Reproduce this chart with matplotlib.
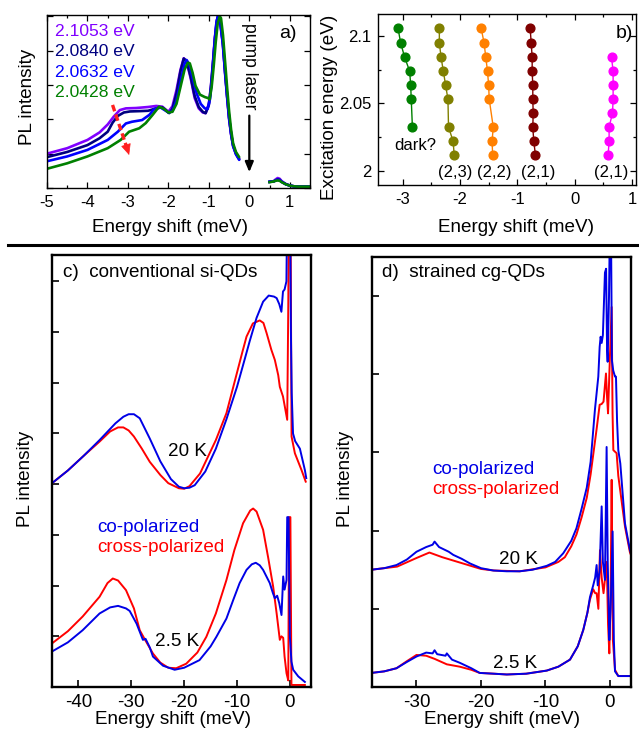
import numpy as np
import matplotlib
matplotlib.use("Agg")
import matplotlib.pyplot as plt
from matplotlib.lines import Line2D
from matplotlib.ticker import MultipleLocator, NullFormatter, FixedLocator, FixedFormatter

plt.rcParams['font.family'] = ['Liberation Sans', 'DejaVu Sans']
plt.rcParams['axes.unicode_minus'] = False

W, H = 639, 729
FS = 13.6

# ---------------- Panel a data ----------------
a_labels = ["2.1053 eV", "2.0840 eV", "2.0632 eV", "2.0428 eV"]
a_colors = ["#8000ff", "#000080", "#0000ff", "#008000"]

a_x_purple = [-5.0, -4.5, -4.0, -3.7, -3.5, -3.35, -3.2, -3.05, -2.8, -2.5, -2.3, -2.15, -2.0, -1.9, -1.8, -1.7, -1.62, -1.55, -1.45, -1.35, -1.25, -1.15, -1.08, -1.0, -0.95, -0.9, -0.85, -0.8, -0.77, -0.72, -0.65, -0.6, -0.55, -0.5, -0.45, -0.4, -0.33, -0.25]
a_y_purple = [1.00, 1.16, 1.40, 1.62, 1.85, 2.08, 2.27, 2.32, 2.33, 2.36, 2.39, 2.37, 2.22, 2.38, 2.85, 3.45, 3.78, 3.68, 3.20, 2.62, 2.32, 2.20, 2.18, 2.45, 2.95, 3.65, 4.40, 4.90, 5.00, 4.85, 4.15, 3.35, 2.65, 2.00, 1.55, 1.22, 1.00, 0.85]
a_x_navy = [-5.0, -4.5, -4.0, -3.7, -3.5, -3.38, -3.25, -3.1, -2.95, -2.7, -2.5, -2.3, -2.15, -1.98, -1.9, -1.8, -1.7, -1.62, -1.55, -1.45, -1.35, -1.25, -1.15, -1.08, -1.0, -0.95, -0.9, -0.85, -0.8, -0.77, -0.72, -0.65, -0.6, -0.55, -0.5, -0.45, -0.4, -0.33, -0.25]
a_y_navy = [0.90, 1.05, 1.25, 1.45, 1.64, 1.90, 2.10, 2.20, 2.23, 2.24, 2.25, 2.32, 2.35, 2.18, 2.30, 2.75, 3.40, 3.77, 3.70, 3.25, 2.68, 2.36, 2.22, 2.18, 2.42, 2.92, 3.60, 4.35, 4.88, 5.00, 4.88, 4.20, 3.40, 2.70, 2.05, 1.58, 1.24, 1.00, 0.84]
a_x_blue = [-5.0, -4.5, -4.0, -3.5, -3.25, -3.05, -2.9, -2.65, -2.47, -2.35, -2.2, -2.0, -1.9, -1.8, -1.7, -1.6, -1.55, -1.48, -1.4, -1.3, -1.2, -1.1, -1.03, -0.97, -0.92, -0.87, -0.82, -0.78, -0.73, -0.66, -0.6, -0.55, -0.5, -0.45, -0.4, -0.33, -0.25]
a_y_blue = [0.78, 0.92, 1.11, 1.40, 1.64, 1.88, 1.93, 1.98, 2.13, 2.30, 2.35, 2.20, 2.24, 2.55, 3.10, 3.62, 3.73, 3.60, 3.20, 2.75, 2.45, 2.32, 2.30, 2.60, 3.25, 4.05, 4.75, 5.00, 4.90, 4.25, 3.40, 2.70, 2.05, 1.58, 1.22, 0.98, 0.82]
a_x_green = [-5.0, -4.5, -4.0, -3.5, -3.18, -2.97, -2.72, -2.56, -2.39, -2.23, -2.1, -2.0, -1.9, -1.8, -1.7, -1.6, -1.52, -1.47, -1.4, -1.33, -1.22, -1.1, -1.02, -0.98, -0.93, -0.88, -0.83, -0.78, -0.73, -0.7, -0.65, -0.6, -0.55, -0.5, -0.45, -0.4, -0.33, -0.25]
a_y_green = [0.56, 0.72, 0.92, 1.16, 1.40, 1.64, 1.74, 1.89, 2.13, 2.37, 2.30, 2.20, 2.22, 2.45, 2.95, 3.45, 3.65, 3.63, 3.35, 2.98, 2.72, 2.65, 2.62, 2.58, 2.95, 3.55, 4.25, 4.80, 5.00, 4.95, 4.45, 3.70, 2.95, 2.25, 1.70, 1.30, 1.05, 0.90]

a_x_anti = [0.5, 0.6, 0.65, 0.7, 0.75, 0.8, 0.9, 1.0, 1.1, 1.2, 1.35, 1.5]
a_y_anti_purple = [0.18, 0.20, 0.25, 0.29, 0.27, 0.20, 0.12, 0.07, 0.05, 0.04, 0.04, 0.04]
a_y_anti_navy = [0.18, 0.19, 0.22, 0.25, 0.24, 0.18, 0.11, 0.07, 0.05, 0.04, 0.04, 0.04]
a_y_anti_blue = [0.18, 0.19, 0.22, 0.24, 0.23, 0.18, 0.11, 0.07, 0.05, 0.04, 0.04, 0.04]
a_y_anti_green = [0.17, 0.19, 0.21, 0.22, 0.21, 0.17, 0.11, 0.07, 0.05, 0.04, 0.04, 0.04]

# ---------------- Panel b data ----------------
b_green_x = [-3.08, -3.035, -2.965, -2.877, -2.86, -2.85, -2.83]
b_green_y = [2.1053, 2.0947, 2.0840, 2.0737, 2.0632, 2.0530, 2.0325]
b_olive_x = [-2.36, -2.36, -2.33, -2.29, -2.25, -2.21, -2.20, -2.12, -2.10]
b_olive_y = [2.1053, 2.0947, 2.0840, 2.0737, 2.0632, 2.0530, 2.0325, 2.0220, 2.0115]
b_orange_x = [-1.63, -1.58, -1.55, -1.52, -1.50, -1.49, -1.42, -1.44, -1.43]
b_orange_y = [2.1053, 2.0947, 2.0840, 2.0737, 2.0632, 2.0530, 2.0325, 2.0220, 2.0115]
b_dred_x = [-0.776, -0.758, -0.741, -0.741, -0.730, -0.730, -0.723, -0.730, -0.713, -0.683]
b_dred_y = [2.1053, 2.0947, 2.0840, 2.0737, 2.0632, 2.0530, 2.0428, 2.0325, 2.0220, 2.0115]
b_mag_x = [0.643, 0.671, 0.671, 0.671, 0.660, 0.601, 0.601, 0.583]
b_mag_y = [2.0840, 2.0737, 2.0632, 2.0530, 2.0428, 2.0325, 2.0220, 2.0115]

# ---------------- Panel c data ----------------
c20_blue_x = [-45, -42, -39, -36, -33, -31.5, -30.5, -29.5, -28.4, -26.5, -24.5, -22.5, -21, -20, -19, -18, -16, -14, -12, -10, -8.5, -7.6, -6.3, -5.06, -4.0, -3.0, -2.5, -2.0, -1.6, -1.3, -1.0, -0.65, -0.45, 0.0, 0.2, 0.35, 0.6, 1.0, 1.9, 2.84, 3.1]
c20_blue_y = [4.02, 4.27, 4.56, 4.87, 5.20, 5.33, 5.38, 5.38, 5.30, 4.90, 4.45, 4.10, 3.95, 3.92, 3.93, 3.98, 4.25, 4.70, 5.28, 5.92, 6.48, 6.82, 7.28, 7.60, 7.72, 7.70, 7.67, 7.55, 7.40, 7.80, 7.84, 8.0, 10.0, 10.0, 7.0, 5.8, 5.0, 4.85, 4.70, 4.28, 4.12]
c20_red_x = [-45, -42, -39, -36, -34, -32.5, -31.5, -30.5, -29.5, -28, -26.5, -24.5, -23, -21, -20, -19, -17, -14, -12, -10.7, -9, -8.2, -7, -5.7, -5, -4.4, -3.5, -2.84, -2.2, -1.9, -1.3, -0.5, -0.3, -0.15, 0.1, 0.32, 0.95, 2.2, 3.0]
c20_red_y = [4.02, 4.27, 4.56, 4.84, 5.04, 5.12, 5.12, 5.06, 4.94, 4.70, 4.44, 4.18, 4.02, 3.92, 3.91, 3.96, 4.21, 4.87, 5.40, 5.92, 6.60, 6.91, 7.17, 7.23, 7.18, 6.98, 6.65, 6.45, 6.15, 5.92, 5.73, 5.27, 7.5, 10.0, 10.0, 4.94, 4.61, 4.28, 4.05]
c25_blue_x = [-45, -42, -39.2, -36, -34, -32.5, -31, -30.3, -29, -27.8, -27.3, -26.5, -25.9, -24, -21.8, -20, -17.1, -15, -13.9, -12, -10.7, -9.5, -8.2, -7.2, -6.45, -5.7, -5.06, -3.8, -3.2, -2.84, -2.4, -2.0, -1.58, -1.26, -1.0, -0.75, -0.63, -0.5, -0.25, 0.0, 0.3, 0.63, 1.58, 2.84]
c25_blue_y = [0.70, 0.88, 1.12, 1.45, 1.57, 1.60, 1.55, 1.50, 1.25, 0.93, 0.95, 0.78, 0.60, 0.42, 0.34, 0.38, 0.53, 0.80, 0.99, 1.35, 1.72, 2.05, 2.31, 2.42, 2.45, 2.40, 2.31, 2.05, 1.85, 1.75, 1.80, 1.65, 1.42, 2.18, 1.92, 2.05, 2.11, 3.35, 3.35, 1.0, 0.5, 0.34, 0.21, 0.10]
c25_red_x = [-45, -42, -39.2, -36, -34.5, -33.5, -32.5, -31, -29.5, -28.4, -27.5, -25.9, -24.5, -23, -21.5, -19.6, -17.5, -15.8, -14, -12, -10.5, -8.85, -7.5, -6.95, -6.3, -5.06, -4.1, -3.16, -2.5, -1.9, -1.6, -1.26, -1.0, -0.63, -0.3, -0.15, 0.1, 0.3, 0.5, 2.84]
c25_red_y = [0.86, 1.10, 1.39, 1.78, 2.05, 2.14, 2.10, 1.91, 1.55, 1.12, 0.95, 0.66, 0.48, 0.38, 0.37, 0.46, 0.68, 0.99, 1.45, 2.11, 2.70, 3.23, 3.48, 3.52, 3.46, 3.10, 2.55, 1.98, 1.45, 0.93, 1.00, 0.97, 0.60, 0.27, 0.13, 3.35, 3.35, 0.04, 0.04, 0.04]

# ---------------- Panel d data ----------------
d20_blue_x = [-37, -35, -33.1, -31.5, -30, -28.5, -27.5, -27.2, -26.5, -25, -24.3, -23, -21.7, -20, -18.1, -16, -14, -12, -9.8, -8.5, -7.25, -6, -5.2, -4.4, -3.6, -3.0, -2.33, -1.81, -1.6, -1.45, -1.29, -1.1, -0.78, -0.6, -0.45, -0.36, -0.15, 0.0, 0.15, 0.3, 0.5, 0.78, 0.93, 1.1, 1.29, 1.6, 2.33, 3.1, 3.3]
d20_blue_y = [1.50, 1.52, 1.56, 1.63, 1.73, 1.79, 1.82, 1.86, 1.79, 1.73, 1.69, 1.64, 1.58, 1.52, 1.49, 1.48, 1.48, 1.50, 1.55, 1.60, 1.71, 1.87, 2.03, 2.28, 2.55, 2.88, 3.55, 3.97, 4.35, 4.48, 4.40, 4.50, 5.30, 5.35, 4.30, 4.16, 5.00, 6.00, 6.00, 4.18, 4.05, 3.97, 3.97, 3.40, 3.03, 2.86, 2.09, 1.75, 1.70]
d20_red_x = [-37, -33, -30, -28, -26, -24, -22, -20, -18, -14, -10, -8, -7, -6, -5.2, -4.4, -3.6, -3.0, -2.07, -1.6, -1.29, -1.0, -0.62, -0.45, -0.3, -0.1, 0.26, 0.4, 0.52, 1.03, 1.29, 2.33, 3.1, 3.3]
d20_red_y = [1.50, 1.54, 1.65, 1.72, 1.66, 1.61, 1.56, 1.51, 1.49, 1.48, 1.53, 1.60, 1.66, 1.80, 1.95, 2.17, 2.42, 2.72, 3.30, 3.61, 3.62, 3.65, 4.01, 3.70, 3.50, 4.00, 4.86, 3.50, 3.03, 2.99, 2.70, 2.05, 1.72, 1.68]
d25_blue_x = [-37, -35, -33.1, -31.5, -30, -28.5, -27.5, -27.2, -26.8, -25.5, -25.3, -24.5, -23.3, -21.5, -20.2, -18, -16, -13, -9.8, -8, -6.2, -5, -4.14, -3.5, -3.1, -2.6, -2.3, -2.07, -1.9, -1.6, -1.29, -1.1, -0.78, -0.52, -0.35, -0.1, 0.1, 0.41, 0.6, 0.78, 1.29, 3.3]
d25_blue_y = [0.18, 0.20, 0.24, 0.32, 0.39, 0.44, 0.43, 0.47, 0.42, 0.40, 0.43, 0.35, 0.31, 0.24, 0.18, 0.17, 0.16, 0.17, 0.21, 0.26, 0.35, 0.52, 0.73, 0.95, 1.15, 1.30, 1.40, 1.56, 1.30, 1.50, 2.31, 1.60, 1.37, 3.07, 1.60, 0.60, 1.00, 1.99, 0.60, 0.20, 0.14, 0.14]
d25_red_x = [-37, -35, -33.1, -31.5, -30, -28.5, -27.2, -25.3, -23.3, -21.5, -20.2, -18, -16, -13, -9.8, -8, -6.2, -5, -4.14, -3.5, -3.1, -2.6, -2.3, -2.07, -1.8, -1.55, -1.29, -1.0, -0.5, -0.3, -0.1, 0.1, 0.26, 0.45, 0.78, 1.29, 3.3]
d25_red_y = [0.18, 0.20, 0.24, 0.33, 0.41, 0.40, 0.36, 0.29, 0.26, 0.22, 0.18, 0.17, 0.16, 0.17, 0.21, 0.26, 0.35, 0.52, 0.73, 0.95, 1.12, 1.25, 1.20, 1.20, 1.00, 1.75, 1.40, 1.20, 1.60, 0.80, 0.43, 1.20, 2.65, 0.60, 0.22, 0.14, 0.14]

BLUE = "#0000e6"
RED = "#ff0000"

fig = plt.figure(figsize=(W / 100, H / 100), dpi=100)


def fx(px):
    return px / W


def fy(py):
    return 1 - py / H


def add_ax(l, t, r, b):
    return fig.add_axes([fx(l), fy(b), (r - l) / W, (b - t) / H])


# ---------------- Panel a ----------------
axa = add_ax(47, 15, 310, 188)
xs = [a_x_purple, a_x_navy, a_x_blue, a_x_green]
ys = [a_y_purple, a_y_navy, a_y_blue, a_y_green]
ants = [a_y_anti_purple, a_y_anti_navy, a_y_anti_blue, a_y_anti_green]
for x, y, yan, c in zip(xs, ys, ants, a_colors):
    axa.plot(x, y, color=c, lw=1.9, solid_capstyle='round')
    axa.plot(a_x_anti, yan, color=c, lw=1.9)
axa.set_xlim(-5, 1.5)
axa.set_ylim(0, 5.04)
axa.xaxis.set_major_locator(MultipleLocator(1))
axa.xaxis.set_minor_locator(MultipleLocator(0.5))
axa.yaxis.set_major_locator(MultipleLocator(1))
axa.yaxis.set_major_formatter(NullFormatter())
axa.tick_params(which='both', direction='in', top=True, right=True, labelsize=12, width=0.9)
axa.tick_params(which='major', length=4, pad=5)
axa.tick_params(which='minor', length=2.5)
for s in axa.spines.values():
    s.set_linewidth(1.0)
for i, (lab, c) in enumerate(zip(a_labels, a_colors)):
    fig.text(fx(55), fy(31.7 + 20.2 * i), lab, color=c, fontsize=12.6, ha='left', va='center')
fig.text(fx(297), fy(33), "a)", fontsize=14, ha='right', va='center')
axa.text(0, 3.54, "pump laser", rotation=-90, fontsize=FS * 0.93, ha='center', va='center')
axa.annotate("", xy=(0, 0.38), xytext=(0, 2.19),
             arrowprops=dict(arrowstyle='-|>,head_length=0.6,head_width=0.25', color='black', lw=1.6))
# red dashed arrow: dashed shaft + solid head
axa.plot([-3.38, -3.04], [2.42, 1.22], color='#ff2020', lw=2.4, dashes=(2.0, 1.0),
         solid_capstyle='butt', dash_capstyle='butt', zorder=6)
axa.annotate("", xy=(-2.97, 0.96), xytext=(-3.05, 1.26), zorder=6,
             arrowprops=dict(arrowstyle='-|>,head_length=0.7,head_width=0.32', color='#ff2020', lw=0.5,
                             shrinkA=0, shrinkB=0))

# ---------------- Panel b ----------------
axb = add_ax(378, 14, 636, 185)
b_sets = [(b_green_x, b_green_y, "#008000"), (b_olive_x, b_olive_y, "#808000"),
          (b_orange_x, b_orange_y, "#ff8000"), (b_dred_x, b_dred_y, "#800000"),
          (b_mag_x, b_mag_y, "#ff00ff")]
for x, y, c in b_sets:
    axb.plot(x, y, '-', color=c, lw=1.0)
    axb.plot(x, y, 'o', color=c, ms=6.3, mec=c)
axb.set_xlim(-3.43, 1.07)
axb.set_ylim(1.9897, 2.116)
axb.xaxis.set_major_locator(MultipleLocator(1))
axb.xaxis.set_minor_locator(MultipleLocator(0.5))
axb.yaxis.set_major_locator(FixedLocator([2.0, 2.05, 2.1]))
axb.yaxis.set_major_formatter(FixedFormatter(["2", "2.05", "2.1"]))
axb.yaxis.set_minor_locator(FixedLocator([2.025, 2.075]))
axb.tick_params(which='both', direction='in', top=True, right=True, labelsize=12, width=0.9)
axb.tick_params(which='major', length=4, pad=5)
axb.tick_params(which='minor', length=2.5)
for s in axb.spines.values():
    s.set_linewidth(1.0)
fig.text(fx(415), fy(145), "dark?", fontsize=12, ha='center', va='center')
for px_, lab in [(455, "(2,3)"), (494, "(2,2)"), (538, "(2,1)"), (611, "(2,1)")]:
    fig.text(fx(px_), fy(172), lab, fontsize=12, ha='center', va='center')
fig.text(fx(633), fy(33), "b)", fontsize=14, ha='right', va='center')

fig.text(fx(28), fy(97), "PL intensity", rotation=90, fontsize=FS, ha='center', va='center')
fig.text(fx(169.5), fy(228), "Energy shift (meV)", fontsize=FS, ha='center', va='center')
fig.text(fx(330), fy(107), "Excitation energy (eV)", rotation=90, fontsize=FS, ha='center', va='center')
fig.text(fx(516), fy(228), "Energy shift (meV)", fontsize=FS, ha='center', va='center')

# separator line
fig.add_artist(Line2D([fx(8), 1.0], [fy(245), fy(245)], color='black', lw=2.2))

# ---------------- Panel c ----------------
axc = add_ax(52, 255, 311, 687)
axc.plot(c20_red_x, c20_red_y, color=RED, lw=1.4)
axc.plot(c20_blue_x, c20_blue_y, color=BLUE, lw=1.4)
axc.plot(c25_red_x, c25_red_y, color=RED, lw=1.4)
axc.plot(c25_blue_x, c25_blue_y, color=BLUE, lw=1.4)
axc.set_xlim(-45, 4)
axc.set_ylim(0, 8.52)
axc.xaxis.set_major_locator(MultipleLocator(10))
axc.yaxis.set_major_locator(FixedLocator([1, 2, 3, 4, 5, 6, 7, 8]))
axc.yaxis.set_major_formatter(NullFormatter())
axc.tick_params(direction='in', length=5, width=1.2, labelsize=FS, pad=5)
for s in axc.spines.values():
    s.set_linewidth(1.7)
fig.text(fx(63), fy(273), "c)  conventional si-QDs", fontsize=FS, ha='left', va='center')
fig.text(fx(187), fy(452), "20 K", fontsize=FS, ha='center', va='center')
fig.text(fx(177), fy(642), "2.5 K", fontsize=FS, ha='center', va='center')
fig.text(fx(97), fy(527), "co-polarized", color=BLUE, fontsize=FS, ha='left', va='center')
fig.text(fx(97), fy(548), "cross-polarized", color=RED, fontsize=FS, ha='left', va='center')
fig.text(fx(26), fy(479), "PL intensity", rotation=90, fontsize=FS, ha='center', va='center')
fig.text(fx(173.5), fy(719), "Energy shift (meV)", fontsize=FS, ha='center', va='center')

# ---------------- Panel d ----------------
axd = add_ax(372, 257, 631, 687)
axd.plot(d20_red_x, d20_red_y, color=RED, lw=1.4)
axd.plot(d20_blue_x, d20_blue_y, color=BLUE, lw=1.4)
axd.plot(d25_red_x, d25_red_y, color=RED, lw=1.4)
axd.plot(d25_blue_x, d25_blue_y, color=BLUE, lw=1.4)
axd.set_xlim(-36.9, 3.26)
axd.set_ylim(0, 5.5)
axd.xaxis.set_major_locator(MultipleLocator(10))
axd.yaxis.set_major_locator(FixedLocator([1, 2, 3, 4, 5]))
axd.yaxis.set_major_formatter(NullFormatter())
axd.tick_params(direction='in', length=5, width=1.2, labelsize=FS, pad=5)
for s in axd.spines.values():
    s.set_linewidth(1.7)
fig.text(fx(382), fy(273), "d)  strained cg-QDs", fontsize=FS, ha='left', va='center')
fig.text(fx(518), fy(559), "20 K", fontsize=FS, ha='center', va='center')
fig.text(fx(515), fy(663), "2.5 K", fontsize=FS, ha='center', va='center')
fig.text(fx(432), fy(470), "co-polarized", color=BLUE, fontsize=FS, ha='left', va='center')
fig.text(fx(432), fy(490), "cross-polarized", color=RED, fontsize=FS, ha='left', va='center')
fig.text(fx(345), fy(479), "PL intensity", rotation=90, fontsize=FS, ha='center', va='center')
fig.text(fx(501.5), fy(719), "Energy shift (meV)", fontsize=FS, ha='center', va='center')

fig.savefig("out.png", dpi=100)
